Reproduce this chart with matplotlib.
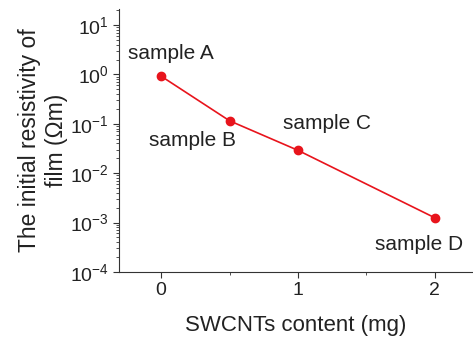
import numpy as np
import matplotlib
matplotlib.use('Agg')
from matplotlib import pyplot as plt
from matplotlib.ticker import LogLocator, NullFormatter, MultipleLocator

plt.rcParams['font.family'] = ['Liberation Sans', 'DejaVu Sans']

content = [0, 0.5, 1, 2]
resistivity = [0.92, 0.115, 0.029, 0.00125]
names = ['sample A', 'sample B', 'sample C', 'sample D']
# label offsets in points
offsets = [(7, 16), (-26.5, -14), (21, 19), (-11, -19)]

fig = plt.figure(figsize=(4.73, 3.39), dpi=100)
ax = fig.add_axes([0.252, 0.198, 0.748, 0.775])

ax.plot(content, resistivity, '-o', color='#e8141c', lw=1.2, ms=6)
for x, y, n, o in zip(content, resistivity, names, offsets):
    ax.annotate(n, (x, y), xytext=o, textcoords='offset points',
                ha='center', va='center', fontsize=15, color='#222222')

ax.set_yscale('log')
ax.set_ylim(1e-4, 21)
ax.set_xlim(-0.307, 2.28)
ax.set_xticks([0, 1, 2])
ax.xaxis.set_minor_locator(MultipleLocator(0.5))
ax.set_yticks([1e-4, 1e-3, 1e-2, 1e-1, 1e0, 1e1])
ax.yaxis.set_minor_locator(LogLocator(base=10, subs=np.arange(2, 10), numticks=20))
ax.yaxis.set_minor_formatter(NullFormatter())

for s in ['top', 'right']:
    ax.spines[s].set_visible(False)
for s in ['left', 'bottom']:
    ax.spines[s].set_color('#333333')
ax.tick_params(which='both', direction='out', colors='#333333', labelsize=14, labelcolor='#222222')
ax.tick_params(which='major', length=4)
ax.tick_params(which='minor', length=2)

ax.set_xlabel('SWCNTs content (mg)', fontsize=16, color='#222222', labelpad=11)
ax.set_ylabel('The initial resistivity of\nfilm (\u03a9m)', fontsize=16.5, color='#222222',
              linespacing=1.25, labelpad=1)

fig.savefig('out.png', dpi=100)
